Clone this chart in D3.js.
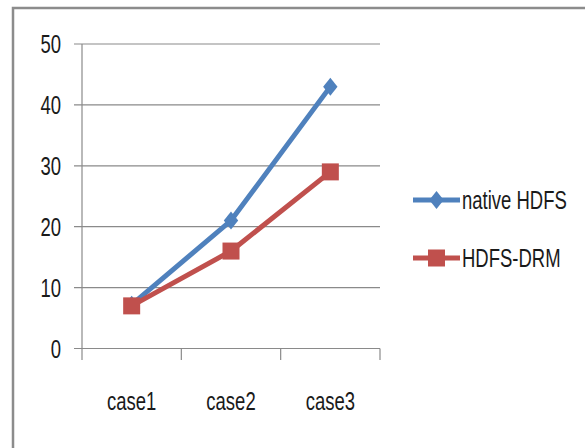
<!DOCTYPE html>
<html><head><meta charset="utf-8">
<script src="https://cdn.jsdelivr.net/npm/d3@7"></script>
<style>body{margin:0;background:#fff}svg{display:block}</style>
</head><body>
<script>
const categories = ["case1","case2","case3"];
const nativeHDFS = [7.2,21,43];
const hdfsDRM = [7,16,29];
const yTicks = [0,10,20,30,40,50];
const seriesNames = ["native HDFS","HDFS-DRM"];

const W=585,H=448;
const svg=d3.select("body").append("svg").attr("width",W).attr("height",H);
const font="'Liberation Sans',Arial,sans-serif";
const SX=0.74;
function txt(g,x,y,s,anchor){
  return g.append("text").attr("transform",`translate(${x},${y}) scale(${SX},1)`)
   .attr("dy","0.36em").attr("text-anchor",anchor||"start")
   .attr("font-family",font).attr("font-size",25).attr("fill","#1a1a1a").text(s);
}
// frame
svg.append("path").attr("d",`M13,${H+5}V8H${W+5}`).attr("fill","none").attr("stroke","#8c8c8c").attr("stroke-width",2.5);

const x=d3.scaleBand().domain(categories).range([82,380]);
const y=d3.scaleLinear().domain([0,50]).range([348.5,44]);

// gridlines
svg.append("g").selectAll("line").data(yTicks).join("line")
 .attr("x1",74).attr("x2",380).attr("y1",d=>y(d)).attr("y2",d=>y(d))
 .attr("stroke","#8a8a8a").attr("stroke-width",1.2);
// y axis
svg.append("line").attr("x1",82).attr("x2",82).attr("y1",y(50)).attr("y2",y(0)).attr("stroke","#8a8a8a").attr("stroke-width",1.2);
const gl=svg.append("g");
yTicks.forEach(d=>txt(gl,61,y(d),d,"end"));
// x axis ticks
const xt=[...categories.map(c=>x(c)),x.range()[1]];
svg.append("g").selectAll("line").data(xt).join("line")
 .attr("x1",d=>d).attr("x2",d=>d).attr("y1",y(0)).attr("y2",360)
 .attr("stroke","#8a8a8a").attr("stroke-width",1.2);
const cx=d=>x(d)+x.bandwidth()/2;
categories.forEach(c=>txt(gl,cx(c),401,c,"middle"));

const line=d3.line().x((d,i)=>cx(categories[i])).y(d=>y(d));
const colors=["#4F81BD","#C0504D"];
const series=[nativeHDFS,hdfsDRM];
const diamond=(g,px,py,s)=>g.append("path").attr("d",`M${px},${py-s}L${px+s*0.8},${py}L${px},${py+s}L${px-s*0.8},${py}Z`);

series.forEach((s,k)=>{
  svg.append("path").datum(s).attr("d",line).attr("fill","none").attr("stroke",colors[k]).attr("stroke-width",5);
  const g=svg.append("g").attr("fill",colors[k]);
  s.forEach((v,i)=>{
    const px=cx(categories[i]),py=y(v);
    if(k===0) diamond(g,px,py,9);
    else g.append("rect").attr("x",px-8.5).attr("y",py-8.5).attr("width",17).attr("height",17);
  });
});
// legend
const ly=[200,258];
seriesNames.forEach((n,k)=>{
  svg.append("line").attr("x1",413).attr("x2",460).attr("y1",ly[k]).attr("y2",ly[k]).attr("stroke",colors[k]).attr("stroke-width",5);
  const g=svg.append("g").attr("fill",colors[k]);
  if(k===0) diamond(g,436.5,ly[k],9);
  else g.append("rect").attr("x",428).attr("y",ly[k]-8.5).attr("width",17).attr("height",17);
  txt(svg,462,ly[k],n);
});
</script>
</body></html>
